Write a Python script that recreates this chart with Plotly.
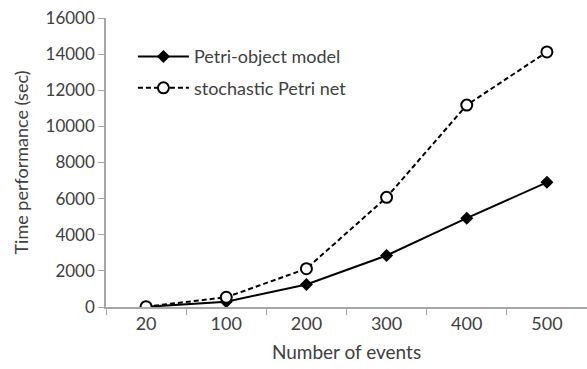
import plotly.graph_objects as go

categories = ["20", "100", "200", "300", "400", "500"]
petri_object = [10, 290, 1250, 2850, 4920, 6900]
stochastic = [20, 540, 2120, 6070, 11180, 14120]
y_ticks = [0, 2000, 4000, 6000, 8000, 10000, 12000, 14000, 16000]

FONT = "Lato"
TXT = "#404040"
AX = "#a6a6a6"

fig = go.Figure()
fig.add_trace(go.Scatter(
    x=categories, y=petri_object, name="Petri-object model", mode="lines+markers",
    line=dict(color="black", width=2), legendgroup="a",
    marker=dict(symbol="diamond", size=10, color="black"),
))
fig.add_trace(go.Scatter(
    x=categories, y=stochastic, name="stochastic Petri net", mode="lines+markers",
    line=dict(color="black", width=2, dash="5px,3px"), legendgroup="b",
    marker=dict(symbol="circle", size=11, color="white", line=dict(color="black", width=2)),
))

fig.update_layout(
    width=587, height=369,
    margin=dict(l=106, r=0, t=18, b=62),
    paper_bgcolor="white", plot_bgcolor="white",
    font=dict(family=FONT, size=17, color=TXT),
    legend=dict(x=0.056, y=0.93, xanchor="left", yanchor="top",
                bgcolor="rgba(0,0,0,0)", tracegroupgap=5, itemwidth=51,
                font=dict(size=18, color=TXT), traceorder="grouped"),
    showlegend=True,
)
fig.update_xaxes(
    type="category", range=[-0.5, 5.5], tickson="boundaries", automargin=False,
    ticks="outside", ticklen=6, tickcolor=AX, showline=True, linecolor=AX, linewidth=1.5,
    showgrid=False, zeroline=False, tickfont=dict(size=18),
    title=dict(text="Number of events", font=dict(size=19, color=TXT), standoff=12),
)
fig.update_yaxes(
    range=[0, 16000], tickvals=y_ticks, ticktext=[str(v) for v in y_ticks], automargin=False,
    ticks="outside", ticklen=6, tickcolor=AX, showline=True, linecolor=AX, linewidth=1.5,
    showgrid=False, zeroline=False, tickfont=dict(size=17),
    title=dict(text="Time performance (sec)", font=dict(size=18, color=TXT), standoff=12),
)

fig.write_html("out.html", config={"displayModeBar": False},
               post_script="document.body.style.margin='0';")
